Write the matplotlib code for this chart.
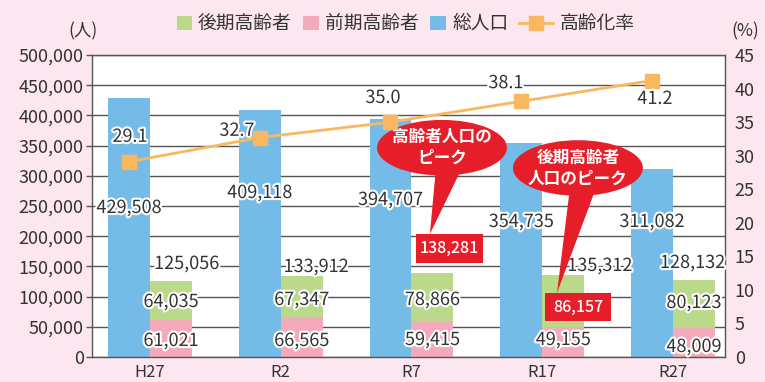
import matplotlib
matplotlib.use("Agg")
import matplotlib.pyplot as plt
import matplotlib.ticker as ticker
import matplotlib.patheffects as pe
from matplotlib.patches import Ellipse, Polygon, Rectangle
from matplotlib.lines import Line2D
import numpy as np

plt.rcParams["font.family"] = ["Noto Sans CJK JP", "DejaVu Sans"]

# 人口推計
years = ["H27", "R2", "R7", "R17", "R27"]
total_pop = [429508, 409118, 394707, 354735, 311082]
late_elderly = [64035, 67347, 78866, 86157, 80123]
early_elderly = [61021, 66565, 59415, 49155, 48009]
elderly_total = [125056, 133912, 138281, 135312, 128132]
aging_rate = [29.1, 32.7, 35.0, 38.1, 41.2]

BG = "#fce6ef"
BLUE = "#74bce7"
GREEN = "#bbd98b"
PINK = "#f4aabb"
ORANGE = "#f9b85f"
RED = "#e61e2a"
TXT = "#333333"
GRID = "#555555"

W = 765
H = 382


def fx(px):
    return px / W


def fy(py):
    return 1 - py / H


halo = [pe.withStroke(linewidth=3, foreground="white")]

fig = plt.figure(figsize=(W / 100, H / 100), dpi=100, facecolor=BG)
ax = fig.add_axes([fx(92), fy(357), (725 - 92) / W, (357 - 55) / H])
ax.set_facecolor("white")

x = np.arange(len(years))
bw = 0.321

ax.bar(x - bw / 2, total_pop, bw, color=BLUE, zorder=2)
ax.bar(x + bw / 2, early_elderly, bw, color=PINK, zorder=2)
ax.bar(x + bw / 2, late_elderly, bw, bottom=early_elderly, color=GREEN, zorder=2)

ax.set_xlim(-0.4436, 4.398)
ax.set_ylim(0, 500000)
ax.yaxis.set_major_locator(ticker.MultipleLocator(50000))
ax.yaxis.set_major_formatter(ticker.FuncFormatter(lambda v, p: f"{int(v):,}"))
ax.grid(axis="y", color=GRID, lw=1)
ax.set_axisbelow(True)
ax.set_xticks(x, years)
ax.tick_params(axis="x", length=0, pad=5, labelsize=12, labelcolor=TXT)
ax.tick_params(axis="y", length=4, width=1, color=GRID, pad=2,
               labelsize=13, labelcolor=TXT)
for s in ax.spines.values():
    s.set_color(GRID)
    s.set_linewidth(1)

# label placement (data units)
total_lbl_y = [246700, 271500, 259900, 223500, 223500]
elder_lbl_dx = [0.28, 0.27, 0.31, 0.44, 0.15]
elder_lbl_y = [154000, 149000, 180000, 150700, 155600]
late_lbl_y = [91000, 94400, 94400, 82800, 89400]
early_lbl_y = [26500, 26500, 28100, 28100, 16600]
rate_lbl_x = [-0.153, 0.665, 1.782, 2.723, 3.862]
rate_lbl_y = [32.8, 33.7, 38.6, 40.8, 38.45]

lbl_kw = dict(ha="center", va="center", fontsize=13, color=TXT,
              path_effects=halo, zorder=5)

for i in range(len(years)):
    ax.text(x[i] - bw / 2, total_lbl_y[i], f"{total_pop[i]:,}", **lbl_kw)
    ax.text(x[i] + bw / 2, early_lbl_y[i], f"{early_elderly[i]:,}", **lbl_kw)
    if i != 2:
        ax.text(x[i] + elder_lbl_dx[i], elder_lbl_y[i], f"{elderly_total[i]:,}", **lbl_kw)
    if i != 3:
        ax.text(x[i] + bw / 2, late_lbl_y[i], f"{late_elderly[i]:,}", **lbl_kw)

# 吹き出し
def callout(cx, cy, text, base, tip, box, value):
    ax.add_patch(Polygon([base[0], base[1], tip], closed=True,
                         color=RED, zorder=6, lw=0))
    ax.add_patch(Ellipse((cx, cy), 0.994, 92000, color=RED, zorder=6, lw=0))
    ax.text(cx, cy, text, ha="center", va="center", color="white",
            fontsize=12, fontweight="bold", linespacing=1.2, zorder=7)
    bx0, bx1, by0, by1 = box
    ax.add_patch(Rectangle((bx0, by0), bx1 - bx0, by1 - by0, color=RED,
                           zorder=6, lw=0))
    ax.text((bx0 + bx1) / 2, (by0 + by1) / 2, f"{value:,}", ha="center",
            va="center", color="white", fontsize=11.5, fontweight="medium", zorder=7)


callout(2.233, 346500, "高齢者人口の\nピーク",
        [(2.187, 312900), (2.386, 312900)], (2.141, 203600),
        (2.034, 2.547, 155600, 203600), elderly_total[2])
callout(3.273, 312900, "後期高齢者\n人口のピーク",
        [(3.212, 279800), (3.411, 279800)], (3.113, 106000),
        (3.021, 3.526, 59600, 106000), late_elderly[3])

ax2 = ax.twinx()
ax2.set_ylim(0, 45)
ax2.set_yticks(range(0, 46, 5))
ax2.tick_params(length=0, pad=7, labelsize=13, labelcolor=TXT)
for s in ax2.spines.values():
    s.set_visible(False)
ax2.plot(x - bw / 2, aging_rate, color=ORANGE, lw=2, marker="s", ms=10, zorder=3)
for i in range(len(years)):
    ax2.text(rate_lbl_x[i], rate_lbl_y[i], f"{aging_rate[i]:.1f}", **lbl_kw)

# 凡例
leg_y = 23
for x0, x1, col in [(177, 192, GREEN), (303, 319, PINK), (430, 446, BLUE)]:
    fig.add_artist(Rectangle((fx(x0), fy(30)), (x1 - x0) / W, 14 / H,
                             transform=fig.transFigure, color=col, lw=0))
fig.add_artist(Line2D([fx(519), fx(553)], [fy(leg_y), fy(leg_y)],
                      transform=fig.transFigure, color=ORANGE, lw=2))
fig.add_artist(Line2D([fx(536)], [fy(leg_y)], transform=fig.transFigure,
                      color=ORANGE, marker="s", ms=10))
for px, label in [(198, "後期高齢者"), (325, "前期高齢者"), (452, "総人口"), (560, "高齢化率")]:
    fig.text(fx(px), fy(leg_y), label, ha="left", va="center", fontsize=13.5, color=TXT)

fig.text(fx(83), fy(31), "(人)", ha="center", va="center", fontsize=12.5, color=TXT)
fig.text(fx(745), fy(31), "(%)", ha="center", va="center", fontsize=12.5, color=TXT)

fig.savefig("out.png", dpi=100, facecolor=BG)
